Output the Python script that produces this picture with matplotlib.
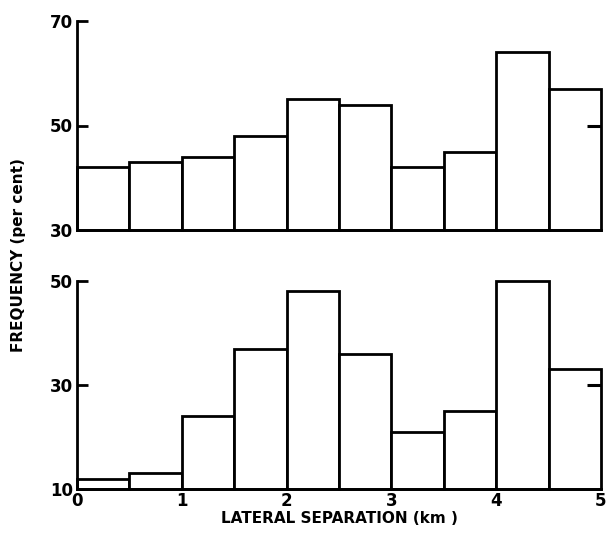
import matplotlib
matplotlib.use("Agg")
import matplotlib.pyplot as plt
import numpy as np

bin_edges = [0, 0.5, 1.0, 1.5, 2.0, 2.5, 3.0, 3.5, 4.0, 4.5, 5.0]
top_values = [42, 43, 44, 48, 55, 54, 42, 45, 64, 57]
bottom_values = [12, 13, 24, 37, 48, 36, 21, 25, 50, 33]
top_yticks = [30, 50, 70]
bottom_yticks = [10, 30, 50]
xticks = [0, 1, 2, 3, 4, 5]
xlabel = "LATERAL SEPARATION (km )"
ylabel = "FREQUENCY (per cent)"

plt.rcParams['font.family'] = ['DejaVu Sans']
plt.rcParams['font.weight'] = 'bold'

fig = plt.figure(figsize=(6.09, 5.40), dpi=100)
W, H = 609, 540
ax_top = fig.add_axes([77 / W, 1 - 230 / H, 524 / W, 209 / H])
ax_bot = fig.add_axes([77 / W, 1 - 489 / H, 524 / W, 208 / H])

def draw(ax, values, yticks, show_x):
    lefts = np.array(bin_edges[:-1])
    widths = np.diff(bin_edges)
    base = yticks[0]
    ax.bar(lefts, np.array(values) - base, width=widths, bottom=base, align='edge',
           facecolor='white', edgecolor='black', linewidth=2.0, zorder=2, clip_on=False)
    ax.set_xlim(bin_edges[0], bin_edges[-1])
    ax.set_ylim(yticks[0], yticks[-1])
    ax.set_yticks(yticks)
    ax.spines['top'].set_visible(False)
    ax.spines['right'].set_visible(False)
    ax.spines['left'].set_linewidth(2.0)
    ax.spines['bottom'].set_linewidth(2.0)
    ax.tick_params(axis='y', direction='in', length=8, width=2.0, labelsize=12, pad=3)
    ax.set_xticks(xticks)
    ax.tick_params(axis='x', length=0, labelsize=12, pad=2)
    if not show_x:
        ax.tick_params(axis='x', labelbottom=False)
    sec = ax.secondary_yaxis('right')
    sec.set_yticks([yticks[1]])
    sec.tick_params(direction='in', length=10, width=2.2, labelright=False)
    sec.spines['right'].set_visible(False)
    sec.set_zorder(5)
    for lab in ax.get_yticklabels() + ax.get_xticklabels():
        lab.set_fontweight('bold')

draw(ax_top, top_values, top_yticks, False)
draw(ax_bot, bottom_values, bottom_yticks, True)

ax_bot.set_xlabel(xlabel, fontsize=11, fontweight='bold', labelpad=1)
fig.text(19 / W, 1 - 255 / H, ylabel, rotation=90, fontsize=11, fontweight='bold',
         ha='center', va='center')

fig.savefig("out.png", dpi=100, facecolor='white')
